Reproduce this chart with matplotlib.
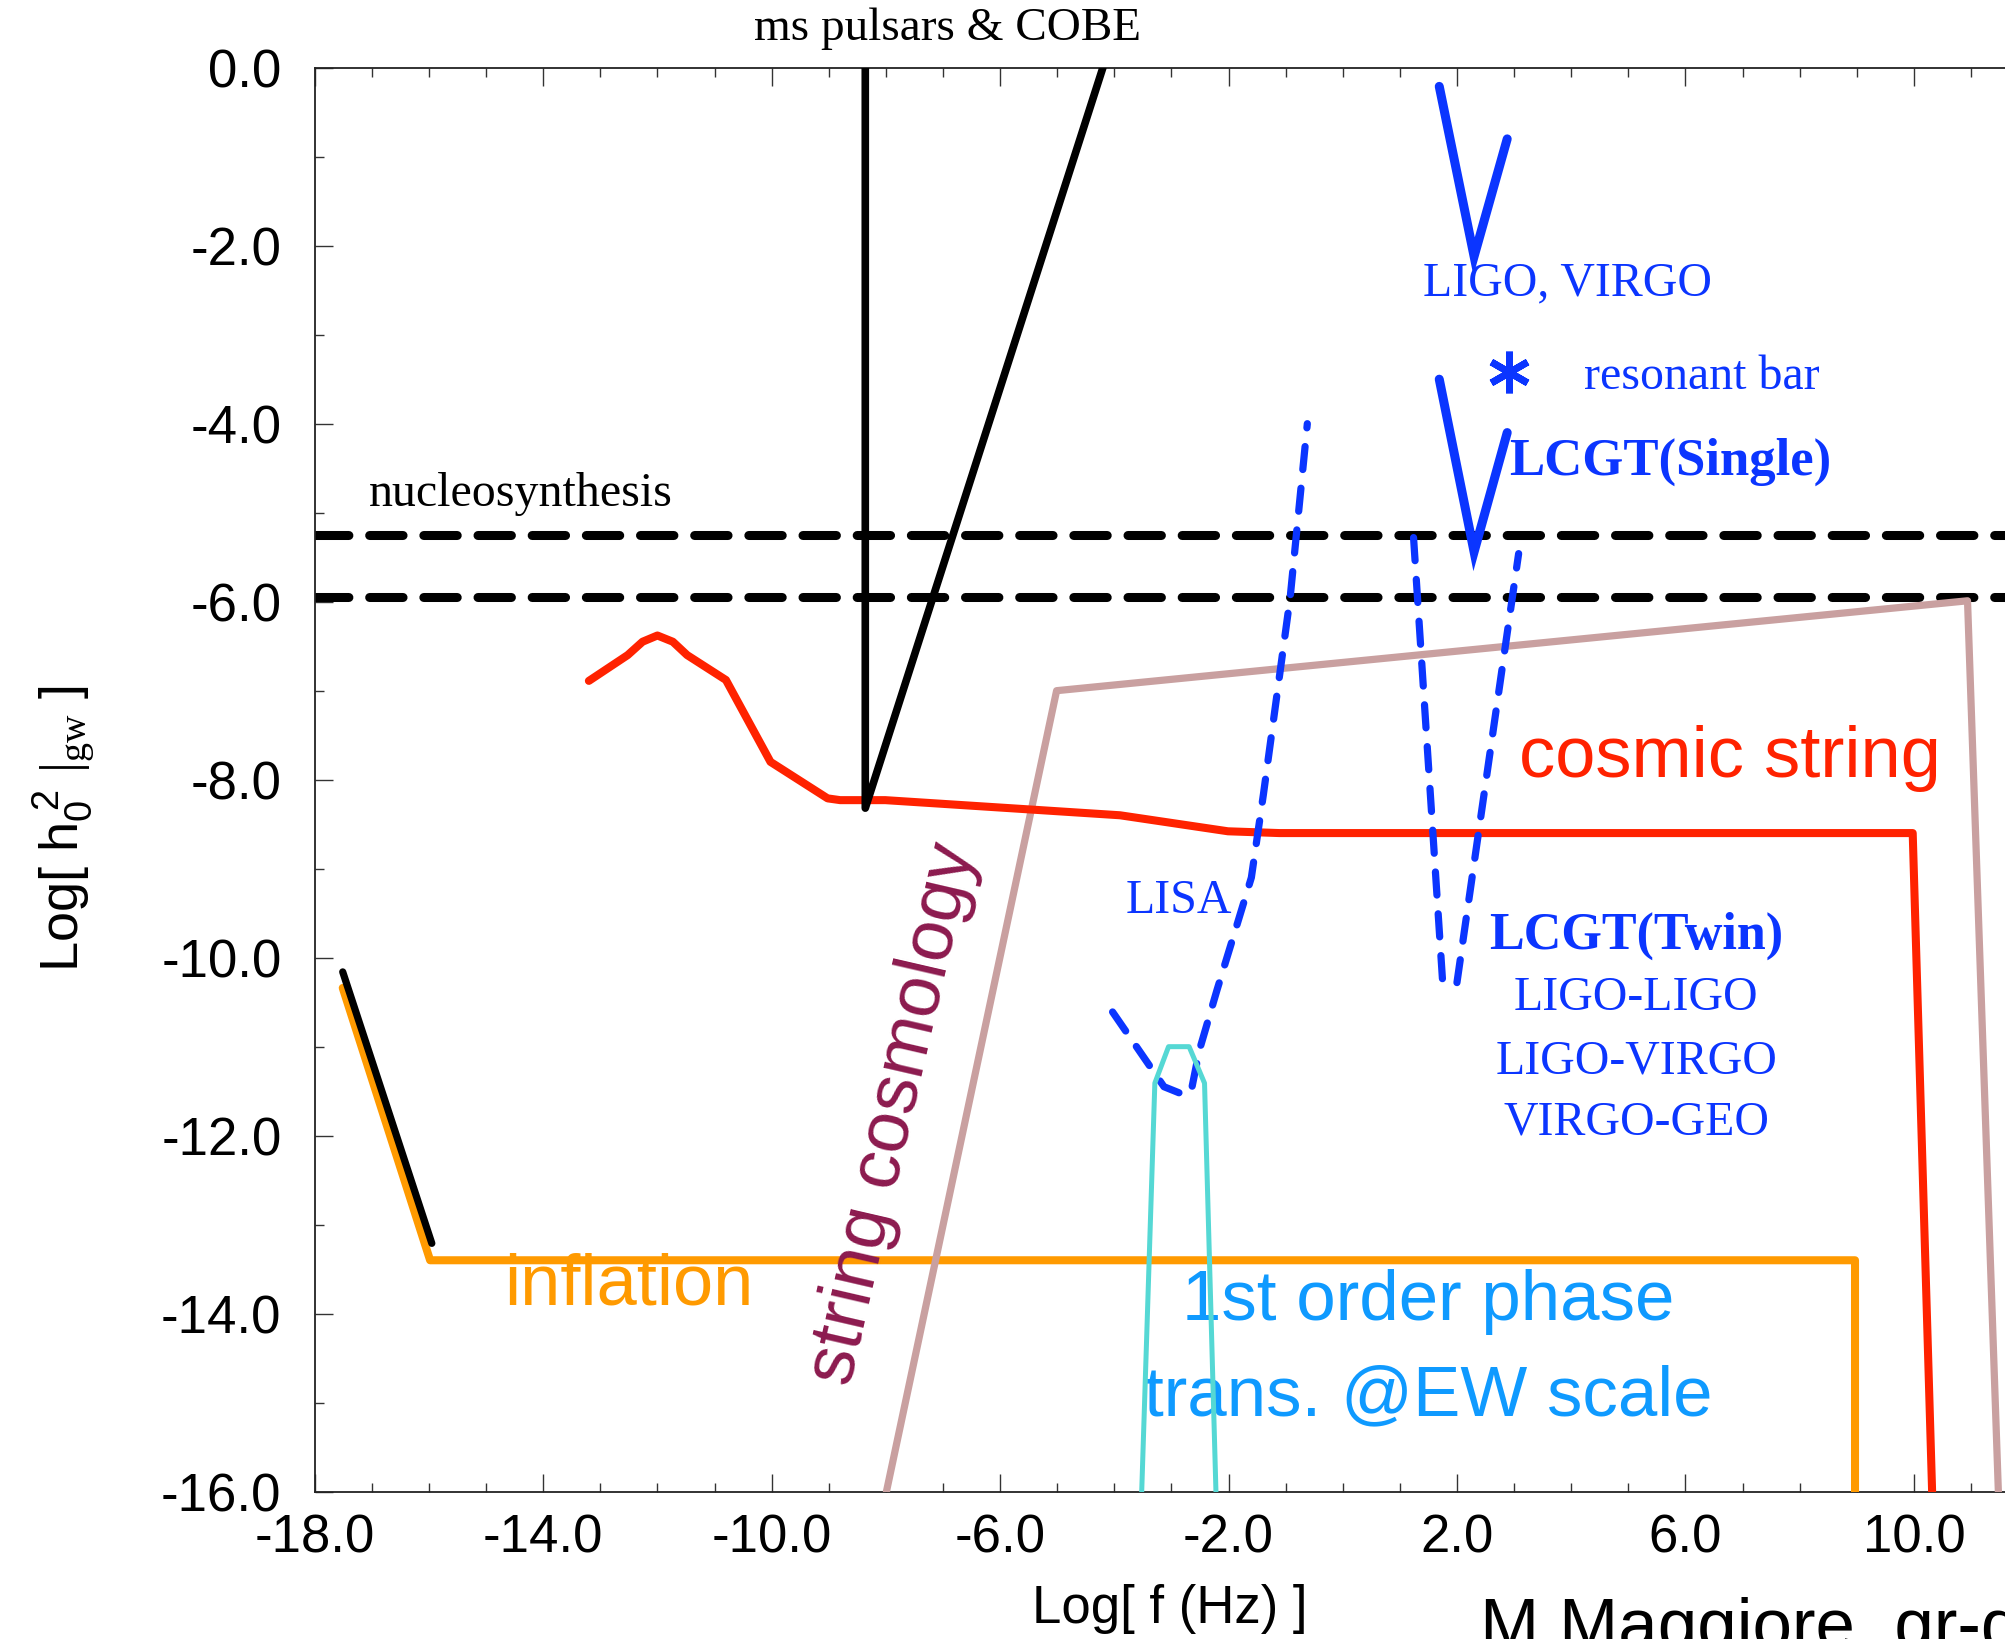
import matplotlib
matplotlib.use("Agg")
import matplotlib.pyplot as plt
from matplotlib.ticker import MultipleLocator, FormatStrFormatter

plt.rcParams['font.family'] = ['Liberation Sans', 'DejaVu Sans']
plt.rcParams['axes.unicode_minus'] = False
plt.rcParams['mathtext.fontset'] = 'custom'
plt.rcParams['mathtext.rm'] = 'Liberation Serif'
plt.rcParams['mathtext.sf'] = 'Liberation Sans'
plt.rcParams['mathtext.it'] = 'Liberation Sans:italic'

# x = Log f [Hz], y = Log h0^2 Omega_gw
pulsar_x = [-8.36, -8.36, -4.2]
pulsar_y = [0.0, -8.32, 0.0]

nucleo_levels = [-5.25, -5.95]

cosmic_x = [-13.2, -12.52, -12.26, -12.0, -11.73, -11.48, -10.8, -10.02, -9.02, -8.8,
            -8.01, -3.9, -2.01, -1.11, 9.98, 10.32]
cosmic_y = [-6.89, -6.6, -6.45, -6.38, -6.45, -6.6, -6.88, -7.8, -8.21, -8.23,
            -8.23, -8.4, -8.58, -8.6, -8.6, -16.0]

inflation_x = [-17.51, -15.98, 8.97, 8.97]
inflation_y = [-10.34, -13.4, -13.4, -16.0]

infl_edge_x = [-17.51, -15.95]
infl_edge_y = [-10.16, -13.21]

strcos_x = [-7.99, -5.01, 10.94, 11.48]
strcos_y = [-16.0, -7.0, -5.99, -16.0]

phase_x = [-3.52, -3.29, -3.05, -2.69, -2.42, -2.22]
phase_y = [-16.0, -11.41, -11.0, -11.0, -11.41, -16.0]

lisa_x = [-4.03, -3.13, -2.86, -2.66, -2.51, -2.2, -1.88, -1.6, -1.39, -0.92, -0.62]
lisa_y = [-10.61, -11.45, -11.52, -11.52, -11.04, -10.36, -9.69, -9.1, -8.17, -5.95, -4.0]

ligo_x = [1.69, 2.30, 2.88]
ligo_y = [-0.21, -2.12, -0.80]

single_x = [1.69, 2.30, 2.88]
single_y = [-3.50, -5.44, -4.10]

twin_left_x = [1.24, 1.75]
twin_left_y = [-5.28, -10.28]
twin_right_x = [2.0, 3.08]
twin_right_y = [-10.28, -5.46]

bar_x = [2.92]
bar_y = [-3.42]

blue = '#0b35ff'
serif = 'Liberation Serif'

fig = plt.figure(figsize=(20.06, 16.39), dpi=100)
ax = fig.add_axes([0.1569, 0.0899, 0.8541, 0.8688])
ax.set_xlim(-18, 12)
ax.set_ylim(-16, 0)

# nucleosynthesis bounds
for lev in nucleo_levels:
    ax.axhline(lev, color='black', lw=6.5, dashes=(3.7, 2.3), dash_capstyle='round', zorder=2)

ax.plot(inflation_x, inflation_y, color='#ff9a00', lw=5.8, zorder=3, solid_capstyle='round')
ax.plot(infl_edge_x, infl_edge_y, color='black', lw=5.2, zorder=3, solid_capstyle='round')
ax.plot(strcos_x, strcos_y, color='#c9a0a0', lw=5.2, zorder=4, solid_capstyle='round')
ax.plot(cosmic_x, cosmic_y, color='#ff2200', lw=5.8, zorder=5, solid_capstyle='round')
ax.plot(pulsar_x, pulsar_y, color='black', lw=5.5, zorder=5, solid_capstyle='round',
        solid_joinstyle='round')

dash_kw = dict(color=blue, lw=5.2, dashes=(3.2, 2.6), dash_capstyle='round', zorder=6)
ax.plot(lisa_x, lisa_y, **dash_kw)
ax.plot(twin_left_x, twin_left_y, **dash_kw)
ax.plot(twin_right_x, twin_right_y, **dash_kw)
ax.plot(phase_x, phase_y, color='#55d8d4', lw=3.6, zorder=7)

ax.plot(ligo_x, ligo_y, color=blue, lw=6.5, solid_joinstyle='miter', solid_capstyle='round', zorder=6)
ax.plot(single_x, single_y, color=blue, lw=6.5, solid_joinstyle='miter', solid_capstyle='round', zorder=6)
ax.plot(bar_x, bar_y, linestyle='none', marker=(6, 2, 0), markersize=30,
        markeredgewidth=5, color=blue, zorder=6)

# labels
ax.text(-10.3, 0.44, 'ms pulsars & COBE', family=serif, fontsize=34, va='center', ha='left')
ax.text(-17.06, -4.79, 'nucleosynthesis', family=serif, fontsize=34.5, va='center', ha='left')
ax.text(1.40, -2.42, 'LIGO, VIRGO', family=serif, fontsize=34.5, color=blue, va='center')
ax.text(4.22, -3.47, 'resonant bar', family=serif, fontsize=34.5, color=blue, va='center')
ax.text(2.92, -4.43, 'LCGT(Single)', family=serif, fontsize=38, weight='bold', color=blue, va='center')
ax.text(-3.80, -9.36, 'LISA', family=serif, fontsize=34.5, color=blue, va='center')
ax.text(5.14, -9.76, 'LCGT(Twin)', family=serif, fontsize=37.5, weight='bold', color=blue,
        va='center', ha='center')
ax.text(5.14, -10.45, 'LIGO-LIGO', family=serif, fontsize=34.5, color=blue, va='center', ha='center')
ax.text(5.14, -11.17, 'LIGO-VIRGO', family=serif, fontsize=34.5, color=blue, va='center', ha='center')
ax.text(5.14, -11.85, 'VIRGO-GEO', family=serif, fontsize=34.5, color=blue, va='center', ha='center')

ax.text(3.08, -7.76, 'cosmic string', fontsize=52, color='#ff2200', va='center')
ax.text(-14.68, -13.69, 'inflation', fontsize=52, color='#ff9a00', va='center')
ax.text(1.49, -13.87, '1st order phase', fontsize=51, color='#0f9aff', va='center', ha='center')
ax.text(1.49, -14.94, 'trans. @EW scale', fontsize=51, color='#0f9aff', va='center', ha='center')
ax.text(-7.86, -11.76, 'string cosmology', fontsize=53, color='#8c1a4e', rotation=77,
        rotation_mode='anchor', va='center', ha='center')

# axes styling
ax.xaxis.set_major_locator(MultipleLocator(4))
ax.xaxis.set_minor_locator(MultipleLocator(1))
ax.yaxis.set_major_locator(MultipleLocator(2))
ax.yaxis.set_minor_locator(MultipleLocator(1))
ax.set_xticks([-18, -14, -10, -6, -2, 2, 6, 10])
ax.xaxis.set_major_formatter(FormatStrFormatter('%.1f'))
ax.yaxis.set_major_formatter(FormatStrFormatter('%.1f'))
ax.tick_params(which='both', direction='in', top=True, right=True, width=1.0, color='#333333')
ax.tick_params(which='major', length=13)
ax.tick_params(which='minor', length=6.5)
ax.tick_params(axis='x', which='major', labelsize=38, pad=16)
ax.tick_params(axis='y', which='major', labelsize=38, pad=24)
for sp in ax.spines.values():
    sp.set_linewidth(1.3)
    sp.set_color('#222222')

fig.text(1170 / 2006, 1 - 1609 / 1639, 'Log[ f (Hz) ]', fontsize=38, ha='center', va='center')
fig.text(64 / 2006, 1 - 829 / 1639,
         r'Log[ h$_{\mathsf{0}}^{\ \mathsf{2}}$ $|_{\mathrm{gw}}$ ]',
         fontsize=39, rotation=90, ha='center', va='center')
# credit line runs off the bottom/right edge, as in the original figure
fig.text(1480 / 2006, 0.0256, 'M.Maggiore, gr-qc/9909001', fontsize=51, ha='left', va='top')

fig.savefig('out.png', dpi=100)
